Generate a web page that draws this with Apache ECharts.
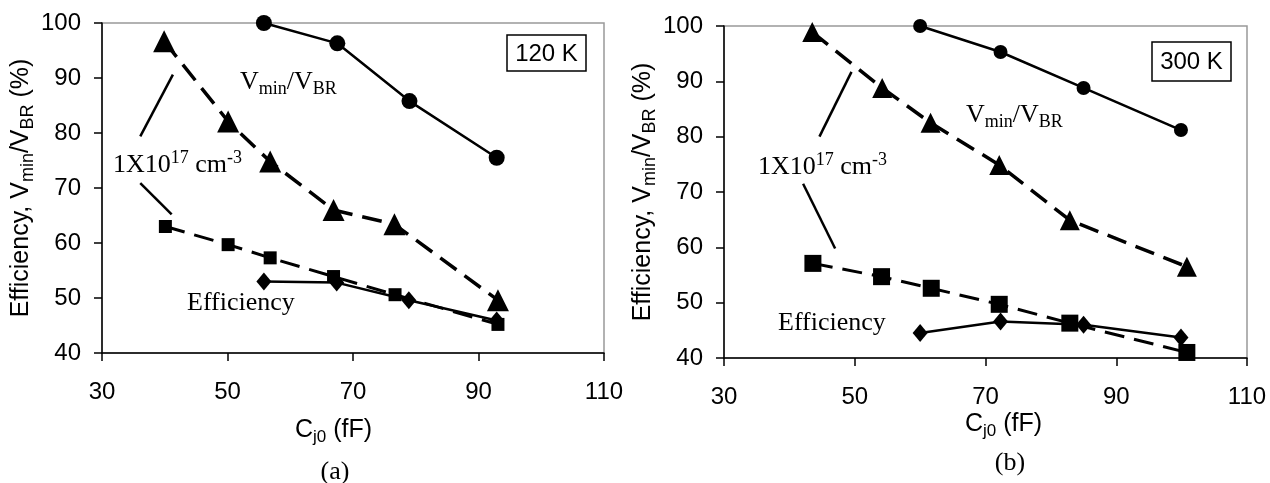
<!DOCTYPE html>
<html>
<head>
<meta charset="utf-8">
<script src="https://cdn.jsdelivr.net/npm/echarts@6/dist/echarts.min.js"></script>
<style>
  html, body { margin: 0; padding: 0; background: #fff; }
  #chart { width: 1270px; height: 483px; }
</style>
</head>
<body>
<div id="chart"></div>
<script>
// (a) 120 K
const vminX_a = [55.8, 67.5, 79.0, 92.9];
const vmin_a = [100, 96.3, 85.8, 75.5];
const triX_a = [39.9, 50.1, 56.8, 66.9, 76.6, 93.1];
const tri_a = [96.7, 82.1, 74.8, 66.0, 63.4, 49.6];
const sqX_a = [40.1, 50.1, 56.8, 66.9, 76.7, 93.1];
const sq_a = [63.0, 59.7, 57.3, 53.9, 50.6, 45.2];
const diaX_a = [55.8, 67.4, 78.9, 92.9];
const dia_a = [53.0, 52.8, 49.6, 45.9];

// (b) 300 K
const vminX_b = [60.0, 72.3, 85.0, 99.9];
const vmin_b = [100, 95.3, 88.8, 81.2];
const triX_b = [43.5, 54.2, 61.6, 72.1, 82.9, 100.8];
const tri_b = [98.9, 88.8, 82.5, 74.9, 64.9, 56.5];
const sqX_b = [43.6, 54.1, 61.7, 72.1, 82.9, 100.8];
const sq_b = [57.1, 54.7, 52.6, 49.7, 46.3, 41.0];
const diaX_b = [60.0, 72.3, 85.0, 99.9];
const dia_b = [44.5, 46.6, 46.0, 43.7];

const xTicks = [30, 50, 70, 90, 110];
const yTicks = [40, 50, 60, 70, 80, 90, 100];

// leader lines from the doping label, in data units
const leaders_a = [[[36.1, 79.4], [41.3, 90.6]], [[36.1, 70.9], [41.1, 65.2]]];
const leaders_b = [[[44.6, 80.0], [49.5, 91.7]], [[42.1, 71.5], [47.0, 59.8]]];

const zip = (xs, ys) => xs.map((x, i) => [x, ys[i]]);
const ARIAL = 'Arial, "Liberation Sans", sans-serif';
const TIMES = '"Times New Roman", "Liberation Serif", serif';

function xAxis(gridIndex) {
  return {
    gridIndex, type: 'value', min: xTicks[0], max: xTicks[xTicks.length - 1], interval: 20,
    axisLine: { lineStyle: { color: '#000', width: 1.5 } },
    axisTick: { length: 8, lineStyle: { color: '#000', width: 1.5 } },
    axisLabel: { margin: 27, color: '#000', fontSize: 24, fontFamily: ARIAL },
    splitLine: { show: false },
  };
}

function yAxis(gridIndex, gap) {
  return {
    gridIndex, type: 'value', min: yTicks[0], max: yTicks[yTicks.length - 1], interval: 10,
    axisLine: { show: true, lineStyle: { color: '#000', width: 1.5 } },
    axisTick: { show: true, length: 8, lineStyle: { color: '#000', width: 1.5 } },
    axisLabel: { margin: 21, color: '#000', fontSize: 24, fontFamily: ARIAL },
    splitLine: { show: false },
    name: '{n|Efficiency, V}{s|min}{n|/V}{s|BR}{n| (%)}',
    nameLocation: 'middle', nameGap: gap,
    nameTextStyle: {
      rich: {
        n: { fontSize: 25, fontFamily: ARIAL, color: '#000', lineHeight: 32 },
        s: { fontSize: 18, fontFamily: ARIAL, color: '#000', verticalAlign: 'bottom', lineHeight: 32 },
      },
    },
  };
}

function panelSeries(idx, d, sz) {
  const base = { xAxisIndex: idx, yAxisIndex: idx, type: 'line', color: '#000', z: 3 };
  const leaderLines = {
    silent: true, symbol: 'none', label: { show: false },
    lineStyle: { color: '#000', type: 'solid', width: 2.5 },
    data: d.leaders.map(([a, b]) => [{ coord: a }, { coord: b }]),
  };
  return [
    { ...base, name: 'sq' + idx, data: zip(d.sqX, d.sq), symbol: 'rect', symbolSize: sz.sq,
      lineStyle: { color: '#000', width: 3, type: [20, 10] }, itemStyle: { color: '#000' } },
    { ...base, name: 'dia' + idx, data: zip(d.diaX, d.dia), symbol: 'diamond', symbolSize: sz.dia,
      lineStyle: { color: '#000', width: 2.5 }, itemStyle: { color: '#000' } },
    { ...base, name: 'tri' + idx, data: zip(d.triX, d.tri), symbol: 'triangle', symbolSize: sz.tri,
      lineStyle: { color: '#000', width: 3.5, type: [20, 10] }, itemStyle: { color: '#000' },
      markLine: leaderLines },
    { ...base, name: 'vmin' + idx, data: zip(d.vminX, d.vmin), symbol: 'circle', symbolSize: sz.circ,
      lineStyle: { color: '#000', width: 2.5 }, itemStyle: { color: '#000' } },
  ];
}

const annRich = {
  n: { fontSize: 26, fontFamily: TIMES, fill: '#000', lineHeight: 32, verticalAlign: 'middle' },
  s: { fontSize: 18, fontFamily: TIMES, fill: '#000', lineHeight: 32, verticalAlign: 'bottom' },
  p: { fontSize: 18, fontFamily: TIMES, fill: '#000', lineHeight: 32, verticalAlign: 'top' },
  a: { fontSize: 25, fontFamily: ARIAL, fill: '#000', lineHeight: 32, verticalAlign: 'middle' },
  as: { fontSize: 17, fontFamily: ARIAL, fill: '#000', lineHeight: 32, verticalAlign: 'bottom' },
};

function txt(x, y, text, align) {
  return { type: 'text', x, y, z: 10,
    style: { text, rich: annRich, align: align || 'left', verticalAlign: 'middle' } };
}

function tempBox(x, y, w, h, label) {
  return [
    { type: 'rect', shape: { x, y, width: w, height: h }, z: 10,
      style: { fill: '#fff', stroke: '#000', lineWidth: 1.5 } },
    { type: 'text', x: x + w / 2, y: y + h / 2 + 1, z: 11,
      style: { text: label, font: '24px ' + ARIAL, fill: '#000', align: 'center', verticalAlign: 'middle' } },
  ];
}

const chart = echarts.init(document.getElementById('chart'), null, { renderer: 'canvas' });
chart.setOption({
  animation: false,
  backgroundColor: '#fff',
  grid: [
    { left: 102, top: 23, width: 502, height: 330, show: true, borderColor: '#999', borderWidth: 1.5 },
    { left: 724, top: 26, width: 523, height: 332, show: true, borderColor: '#999', borderWidth: 1.5 },
  ],
  xAxis: [xAxis(0), xAxis(1)],
  yAxis: [yAxis(0, 61), yAxis(1, 53)],
  series: [
    ...panelSeries(0, { vminX: vminX_a, vmin: vmin_a, triX: triX_a, tri: tri_a, sqX: sqX_a, sq: sq_a,
      diaX: diaX_a, dia: dia_a, leaders: leaders_a }, { sq: 13, dia: [15, 18], tri: 22, circ: 16 }),
    ...panelSeries(1, { vminX: vminX_b, vmin: vmin_b, triX: triX_b, tri: tri_b, sqX: sqX_b, sq: sq_b,
      diaX: diaX_b, dia: dia_b, leaders: leaders_b }, { sq: 17, dia: [15, 18], tri: 20, circ: 14 }),
  ],
  graphic: [
    txt(240, 82, '{n|V}{s|min}{n|/V}{s|BR}'),
    txt(113, 165, '{n|1X10}{p|17}{n| cm}{p|-3}'),
    txt(187, 303, '{n|Efficiency}'),
    ...tempBox(507, 35, 79, 36, '120 K'),
    txt(295, 430, '{a|C}{as|j0}{a| (fF)}'),
    txt(335, 472, '{n|(a)}', 'center'),

    txt(966, 115, '{n|V}{s|min}{n|/V}{s|BR}'),
    txt(758, 167, '{n|1X10}{p|17}{n| cm}{p|-3}'),
    txt(778, 323, '{n|Efficiency}'),
    ...tempBox(1152, 42, 79, 39, '300 K'),
    txt(965, 424, '{a|C}{as|j0}{a| (fF)}'),
    txt(1010, 463, '{n|(b)}', 'center'),
  ],
});
</script>
</body>
</html>
